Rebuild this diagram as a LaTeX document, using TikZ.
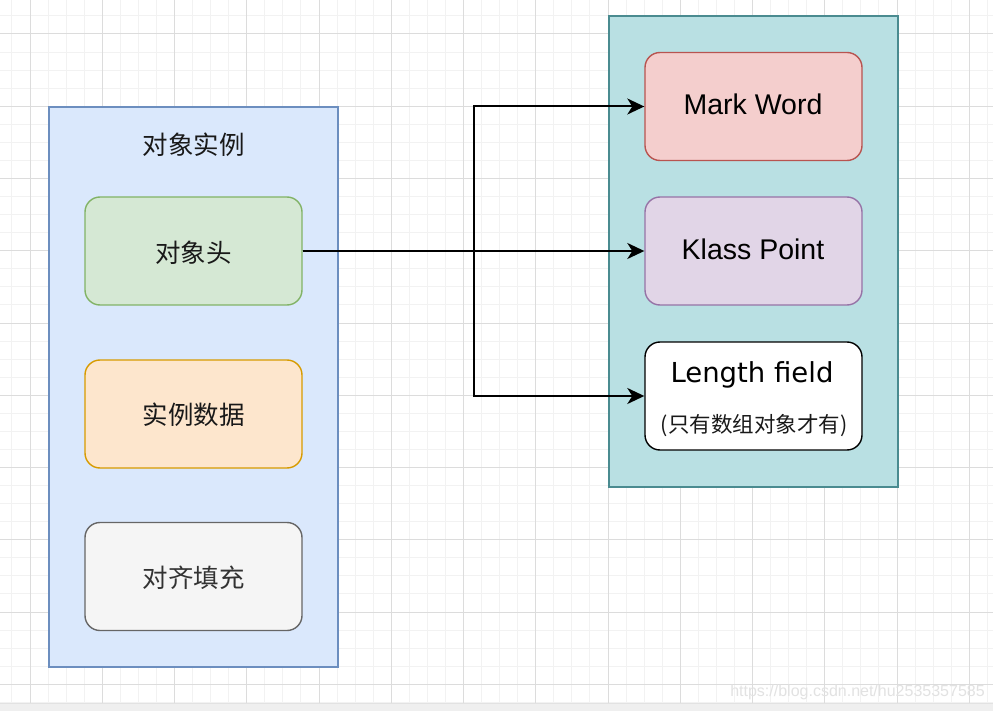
\documentclass[tikz,border=0pt]{standalone}
\usepackage{fontspec}
\setmainfont{Liberation Sans}
\newfontfamily\cjk{Noto Sans CJK SC}
\newfontfamily\dejavu{DejaVu Sans}
\usetikzlibrary{arrows.meta}
\definecolor{gridminor}{RGB}{242,242,242}
\definecolor{gridmajor}{RGB}{220,220,220}
\definecolor{bluefill}{HTML}{DAE8FC}
\definecolor{bluedraw}{HTML}{6C8EBF}
\definecolor{tealfill}{HTML}{B9E0E3}
\definecolor{tealdraw}{HTML}{4A8B90}
\definecolor{greenfill}{HTML}{D5E8D4}
\definecolor{greendraw}{HTML}{82B366}
\definecolor{orangefill}{HTML}{FDE6CD}
\definecolor{orangedraw}{HTML}{D79B00}
\definecolor{grayfill}{HTML}{F5F5F5}
\definecolor{graydraw}{HTML}{666666}
\definecolor{graytext}{HTML}{333333}
\definecolor{redfill}{HTML}{F4CECD}
\definecolor{reddraw}{HTML}{B85450}
\definecolor{purplefill}{HTML}{E1D5E7}
\definecolor{purpledraw}{HTML}{9673A6}
\definecolor{bandfill}{HTML}{EFEFEF}
\definecolor{bandline}{HTML}{E2E2E2}
\definecolor{wmark}{RGB}{226,226,226}
\begin{document}
\begin{tikzpicture}[x=1pt,y=-1pt,
  container/.style={draw, line width=1.4pt, rectangle, inner sep=0pt},
  item/.style={draw, line width=1.4pt, rectangle, rounded corners=15pt,
    minimum width=217pt, minimum height=108pt, inner sep=0pt},
  cntext/.style={font=\cjk\fontsize{25.5}{30}\selectfont, inner sep=0pt, text=black!90},
  entext/.style={font=\fontsize{28.5}{34}\selectfont, inner sep=0pt},
  conn/.style={line width=2pt, -{Stealth[length=17pt,width=16pt,inset=5pt]}},
  gridline/.style={line width=1pt}
]
\useasboundingbox (0,0) rectangle (993,711);
\fill[white] (0,0) rectangle (993,711);
% grid
\foreach \k in {-1,...,53} {\draw[gridline,gridminor] ({30+18.0625*\k},0) -- ({30+18.0625*\k},703);}
\foreach \k in {-1,...,37} {\draw[gridline,gridminor] (0,{34+18.0625*\k}) -- (993,{34+18.0625*\k});}
\foreach \k in {0,...,13} {\draw[gridline,gridmajor] ({30+72.25*\k},0) -- ({30+72.25*\k},703);}
\foreach \k in {0,...,9} {\draw[gridline,gridmajor] (0,{34+72.25*\k}) -- (993,{34+72.25*\k});}
% bottom band
\fill[bandfill] (0,703) rectangle (993,711);
\draw[bandline, line width=1pt] (0,703) -- (993,703);
\node[font=\fontsize{16}{19}\selectfont, text=wmark, inner sep=0pt] (wm) at (857.5,692) {https://blog.csdn.net/hu2535357585};

% containers
\node[container, fill=bluefill, draw=bluedraw, minimum width=289pt, minimum height=560pt] (inst) at (193.5,387) {};
\node[container, fill=tealfill, draw=tealdraw, minimum width=289pt, minimum height=471pt] (hdr) at (753.5,251.5) {};
\node[cntext] (title) at (193.5,145) {对象实例};

% left items
\node[item, fill=greenfill, draw=greendraw] (head) at (193.5,251) {};
\node[cntext] (headt) at (193.5,253) {对象头};
\node[item, fill=orangefill, draw=orangedraw] (data) at (193.5,414) {};
\node[cntext] (datat) at (193.5,415) {实例数据};
\node[item, fill=grayfill, draw=graydraw] (pad) at (193.5,576.5) {};
\node[cntext, text=graytext] (padt) at (193.5,578) {对齐填充};

% right items
\node[item, fill=redfill, draw=reddraw] (mw) at (753.5,106.5) {};
\node[entext] (mwt) at (753,104.5) {Mark Word};
\node[item, fill=purplefill, draw=purpledraw] (kp) at (753.5,251) {};
\node[entext] (kpt) at (753,249.5) {Klass Point};
\node[item, fill=white, draw=black] (lf) at (753.5,396) {};
\node[font=\dejavu\fontsize{27.5}{33}\selectfont, inner sep=0pt] (lft) at (752,374.5) {Length field};
\node[font=\cjk\fontsize{21.5}{26}\selectfont, inner sep=0pt, text=black!90] (lfs) at (754,426) {(只有数组对象才有)};

% connectors
\draw[conn] (head.east) -- (kp.west);
\draw[conn] (head.east) -- ([xshift=171pt]head.east) |- (mw.west);
\draw[conn] (head.east) -- ([xshift=171pt]head.east) |- (lf.west);
\end{tikzpicture}
\end{document}
